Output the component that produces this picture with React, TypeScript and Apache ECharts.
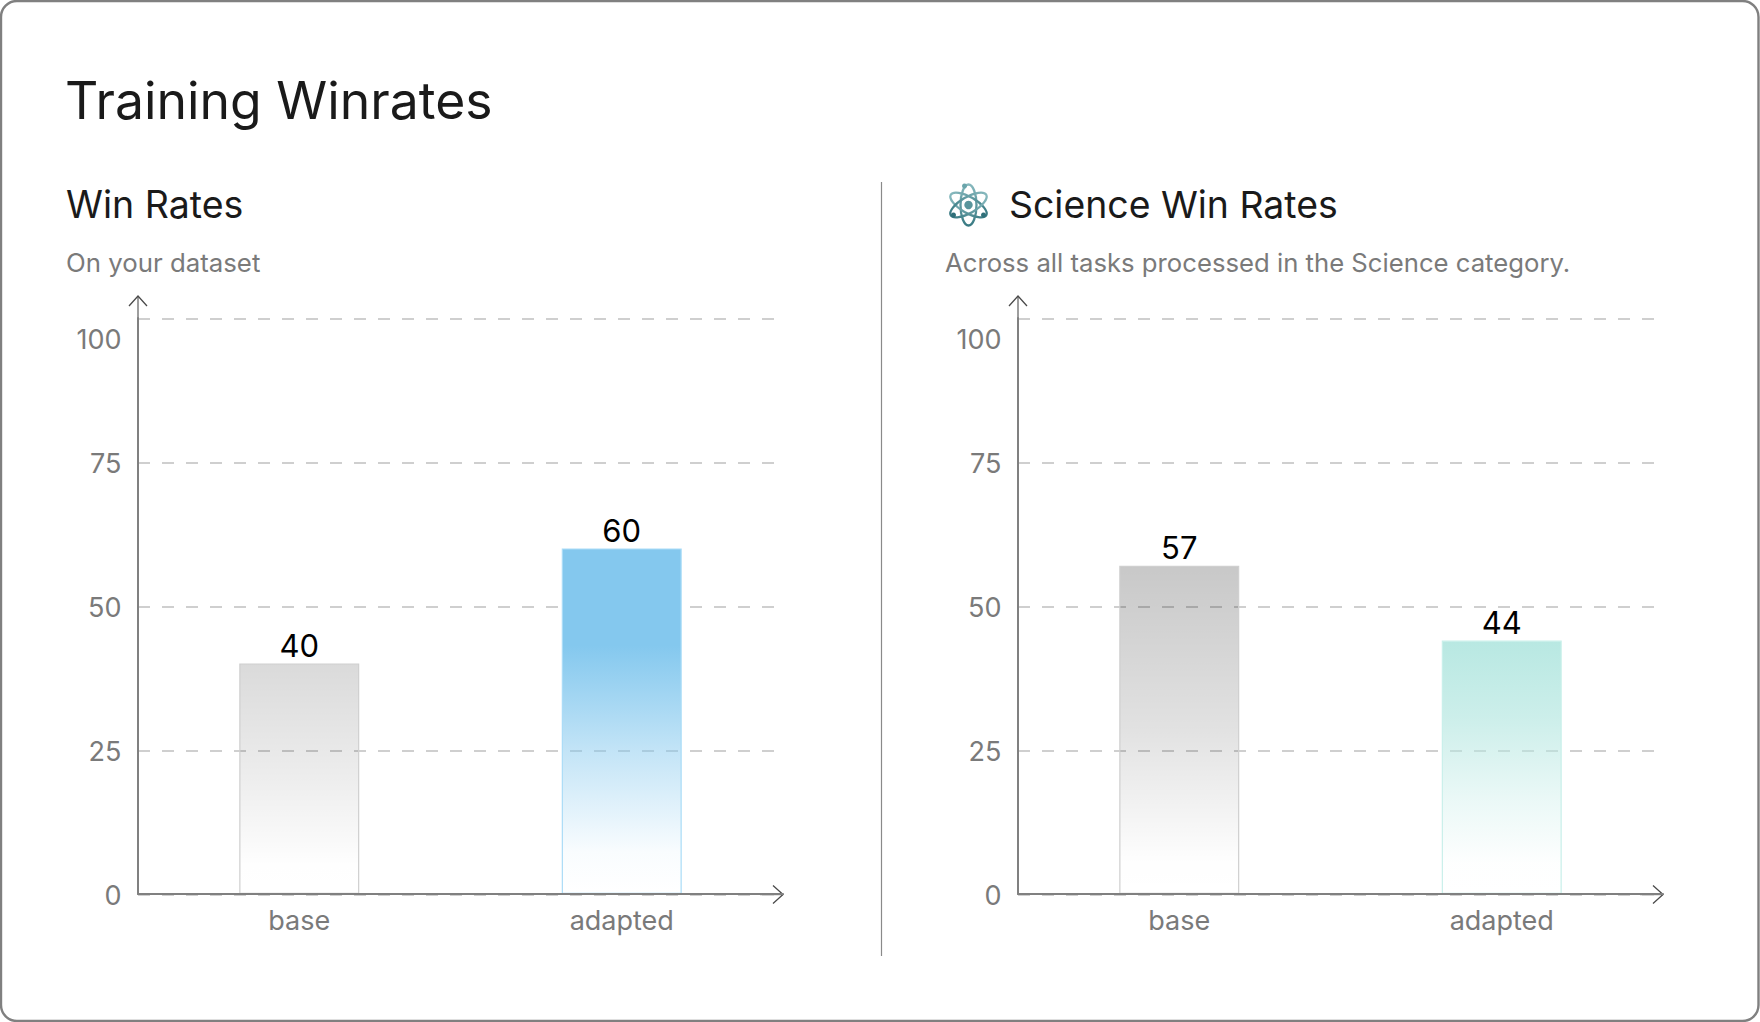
import React, { useEffect, useRef } from "react";
import * as echarts from "echarts";

const categories = ["base", "adapted"];
const winRates = [40, 60];
const scienceWinRates = [57, 44];
const yMin = 0;
const yMax = 100;
const yStep = 25;

const FONT = "Inter, 'Noto Sans', sans-serif";
const GREY_TEXT = "#7a7a7a";
const INK = "#1a1a1a";

const grad = (stops: [number, string][]) => ({
  type: "linear", x: 0, y: 0, x2: 0, y2: 1,
  colorStops: stops.map(([offset, color]) => ({ offset, color })),
});

const grey40 = grad([[0, "rgba(0,0,0,0.145)"], [0.5, "rgba(0,0,0,0.07)"], [0.88, "rgba(0,0,0,0.004)"], [1, "rgba(0,0,0,0)"]]);
const grey57 = grad([[0, "rgba(0,0,0,0.215)"], [0.5, "rgba(0,0,0,0.115)"], [0.9, "rgba(0,0,0,0.006)"], [1, "rgba(0,0,0,0)"]]);
const blue60 = grad([[0, "rgba(132,200,238,1)"], [0.28, "rgba(132,200,238,1)"], [0.58, "rgba(132,200,238,0.5)"], [0.88, "rgba(132,200,238,0.05)"], [1, "rgba(132,200,238,0)"]]);
const teal44 = grad([[0, "rgba(184,232,226,1)"], [0.3, "rgba(184,232,226,0.72)"], [0.62, "rgba(184,232,226,0.3)"], [0.88, "rgba(184,232,226,0.02)"], [1, "rgba(184,232,226,0)"]]);

const panelLeft = [138, 1018];
const plotTop = 318;
const plotHeight = 576;
const plotWidth = 645;
const gridlineWidth = 636;

function arrows(x: number) {
  const stroke = { stroke: "#4a4a4a", lineWidth: 1.3, fill: "none" };
  const bottom = plotTop + plotHeight + 0.5;
  const tipX = x + plotWidth;
  return [
    { type: "polyline", shape: { points: [[x, plotTop], [x, 296]] }, style: { ...stroke, stroke: "#6a6a6a" } },
    { type: "polyline", shape: { points: [[x - 9, 306], [x, 296], [x + 9, 306]] }, style: stroke },
    { type: "polyline", shape: { points: [[tipX - 23, bottom], [tipX, bottom]] }, style: stroke },
    { type: "polyline", shape: { points: [[tipX - 10, bottom - 9], [tipX, bottom], [tipX - 10, bottom + 9]] }, style: stroke },
  ];
}

function atomIcon(cx: number, cy: number) {
  const stroke = {
    type: "linear", x: 0, y: 0, x2: 0, y2: 1,
    colorStops: [{ offset: 0, color: "#86b8bd" }, { offset: 1, color: "#397a83" }],
  };
  const orbit = (rot: number) => ({
    type: "ellipse", x: cx, y: cy, rotation: rot,
    shape: { cx: 0, cy: 0, rx: 8, ry: 20.5 },
    style: { stroke, lineWidth: 2.3, fill: "none" },
  });
  const dot = (x: number, y: number, r: number, c: string) => ({
    type: "circle", shape: { cx: x, cy: y, r }, style: { fill: c },
  });
  return [
    orbit(0), orbit(Math.PI / 3), orbit(-Math.PI / 3),
    dot(cx, cy, 4.2, "#5a959c"),
    dot(cx - 15, cy + 10, 2.5, "#2f6f79"),
    dot(cx + 15, cy + 10, 2.5, "#2f6f79"),
    dot(cx - 4, cy - 19, 2.5, "#6aa5ab"),
  ];
}

const titleItem = (text: string, left: number, top: number, fontSize: number, color: string) => ({
  text, left, top, padding: 0,
  textStyle: { fontFamily: FONT, fontSize, fontWeight: 400, color },
});

const barSeries = (values: number[], idx: number, fills: any[], borders: string[]) => ({
  type: "bar",
  xAxisIndex: idx,
  yAxisIndex: idx,
  barWidth: 120,
  data: values.map((value, i) => ({
    value,
    itemStyle: { color: fills[i], borderColor: borders[i], borderWidth: 1.2 },
  })),
  label: {
    show: true,
    position: "top",
    distance: 2.5,
    color: "#000",
    fontFamily: FONT,
    fontSize: 31,
  },
});

export default function App() {
  const ref = useRef<HTMLDivElement>(null);
  useEffect(() => {
    document.body.style.margin = "0";
    const chart = echarts.init(ref.current!, undefined, { renderer: "svg" });
    const labelStyle = { fontFamily: FONT, fontSize: 27, color: GREY_TEXT };
    const mainGrids = panelLeft.map((left) => ({ left, top: plotTop, width: plotWidth, height: plotHeight }));
    const lineGrids = panelLeft.map((left) => ({ left, top: plotTop + 0.6, width: gridlineWidth, height: plotHeight }));
    const axisLine = { show: true, lineStyle: { color: "#808080", width: 2 } };
    chart.setOption({
      animation: false,
      backgroundColor: "#fff",
      title: [
        titleItem("Training Winrates", 65, 74, 51.7, INK),
        titleItem("Win Rates", 66, 185, 37.5, INK),
        titleItem("On your dataset", 66, 249, 25.8, GREY_TEXT),
        titleItem("Science Win Rates", 1009, 185.6, 37.4, INK),
        titleItem("Across all tasks processed in the Science category.", 945, 249, 25.7, GREY_TEXT),
      ],
      grid: [...mainGrids, ...lineGrids],
      xAxis: [
        ...panelLeft.map((_, gridIndex) => ({
          type: "category",
          gridIndex,
          data: categories,
          z: 3,
          offset: 1,
          axisLine,
          axisTick: { show: false },
          axisLabel: { ...labelStyle, margin: 12 },
        })),
        ...panelLeft.map((_, i) => ({
          type: "value",
          gridIndex: i + 2,
          min: 0,
          max: 1,
          axisLine: { show: false },
          axisTick: { show: false },
          axisLabel: { show: false },
          splitLine: { show: false },
        })),
      ],
      yAxis: [
        ...panelLeft.map((_, gridIndex) => ({
          type: "value",
          gridIndex,
          min: yMin,
          max: yMax,
          interval: yStep,
          z: 3,
          axisLine,
          axisTick: { show: false },
          splitLine: { show: false },
          axisLabel: {
            ...labelStyle,
            margin: 16.5,
            padding: [2, 0, 0, 0],
            formatter: (v: number) => (v === yMax ? `{low|${v}}` : `${v}`),
            rich: { low: { ...labelStyle, padding: [40, 0, 0, 0] } },
          },
        })),
        ...panelLeft.map((_, i) => ({
          type: "value",
          gridIndex: i + 2,
          min: yMin,
          max: yMax,
          interval: yStep,
          axisLine: { show: false },
          axisTick: { show: false },
          axisLabel: { show: false },
          splitLine: { show: true, lineStyle: { color: "#cfcfcf", width: 2, type: [12, 12] } },
        })),
      ],
      series: [
        barSeries(winRates, 0, [grey40, blue60], ["#cfcfcf", "#aadcf7"]),
        barSeries(scienceWinRates, 1, [grey57, teal44], ["#cfcfcf", "#c9f0ea"]),
      ],
      graphic: [
        { type: "rect", shape: { x: 1, y: 1, width: 1757.5, height: 1020, r: 16 }, style: { stroke: "#808080", lineWidth: 2.4, fill: "none" } },
        { type: "line", shape: { x1: 881.5, y1: 182, x2: 881.5, y2: 956 }, style: { stroke: "#8a8a8a", lineWidth: 1.2 } },
        ...panelLeft.flatMap((x) => arrows(x)),
        ...atomIcon(968.5, 205),
      ],
    });
    return () => chart.dispose();
  }, []);
  return <div ref={ref} style={{ position: "absolute", left: 0, top: 0, width: 1760, height: 1022 }} />;
}
